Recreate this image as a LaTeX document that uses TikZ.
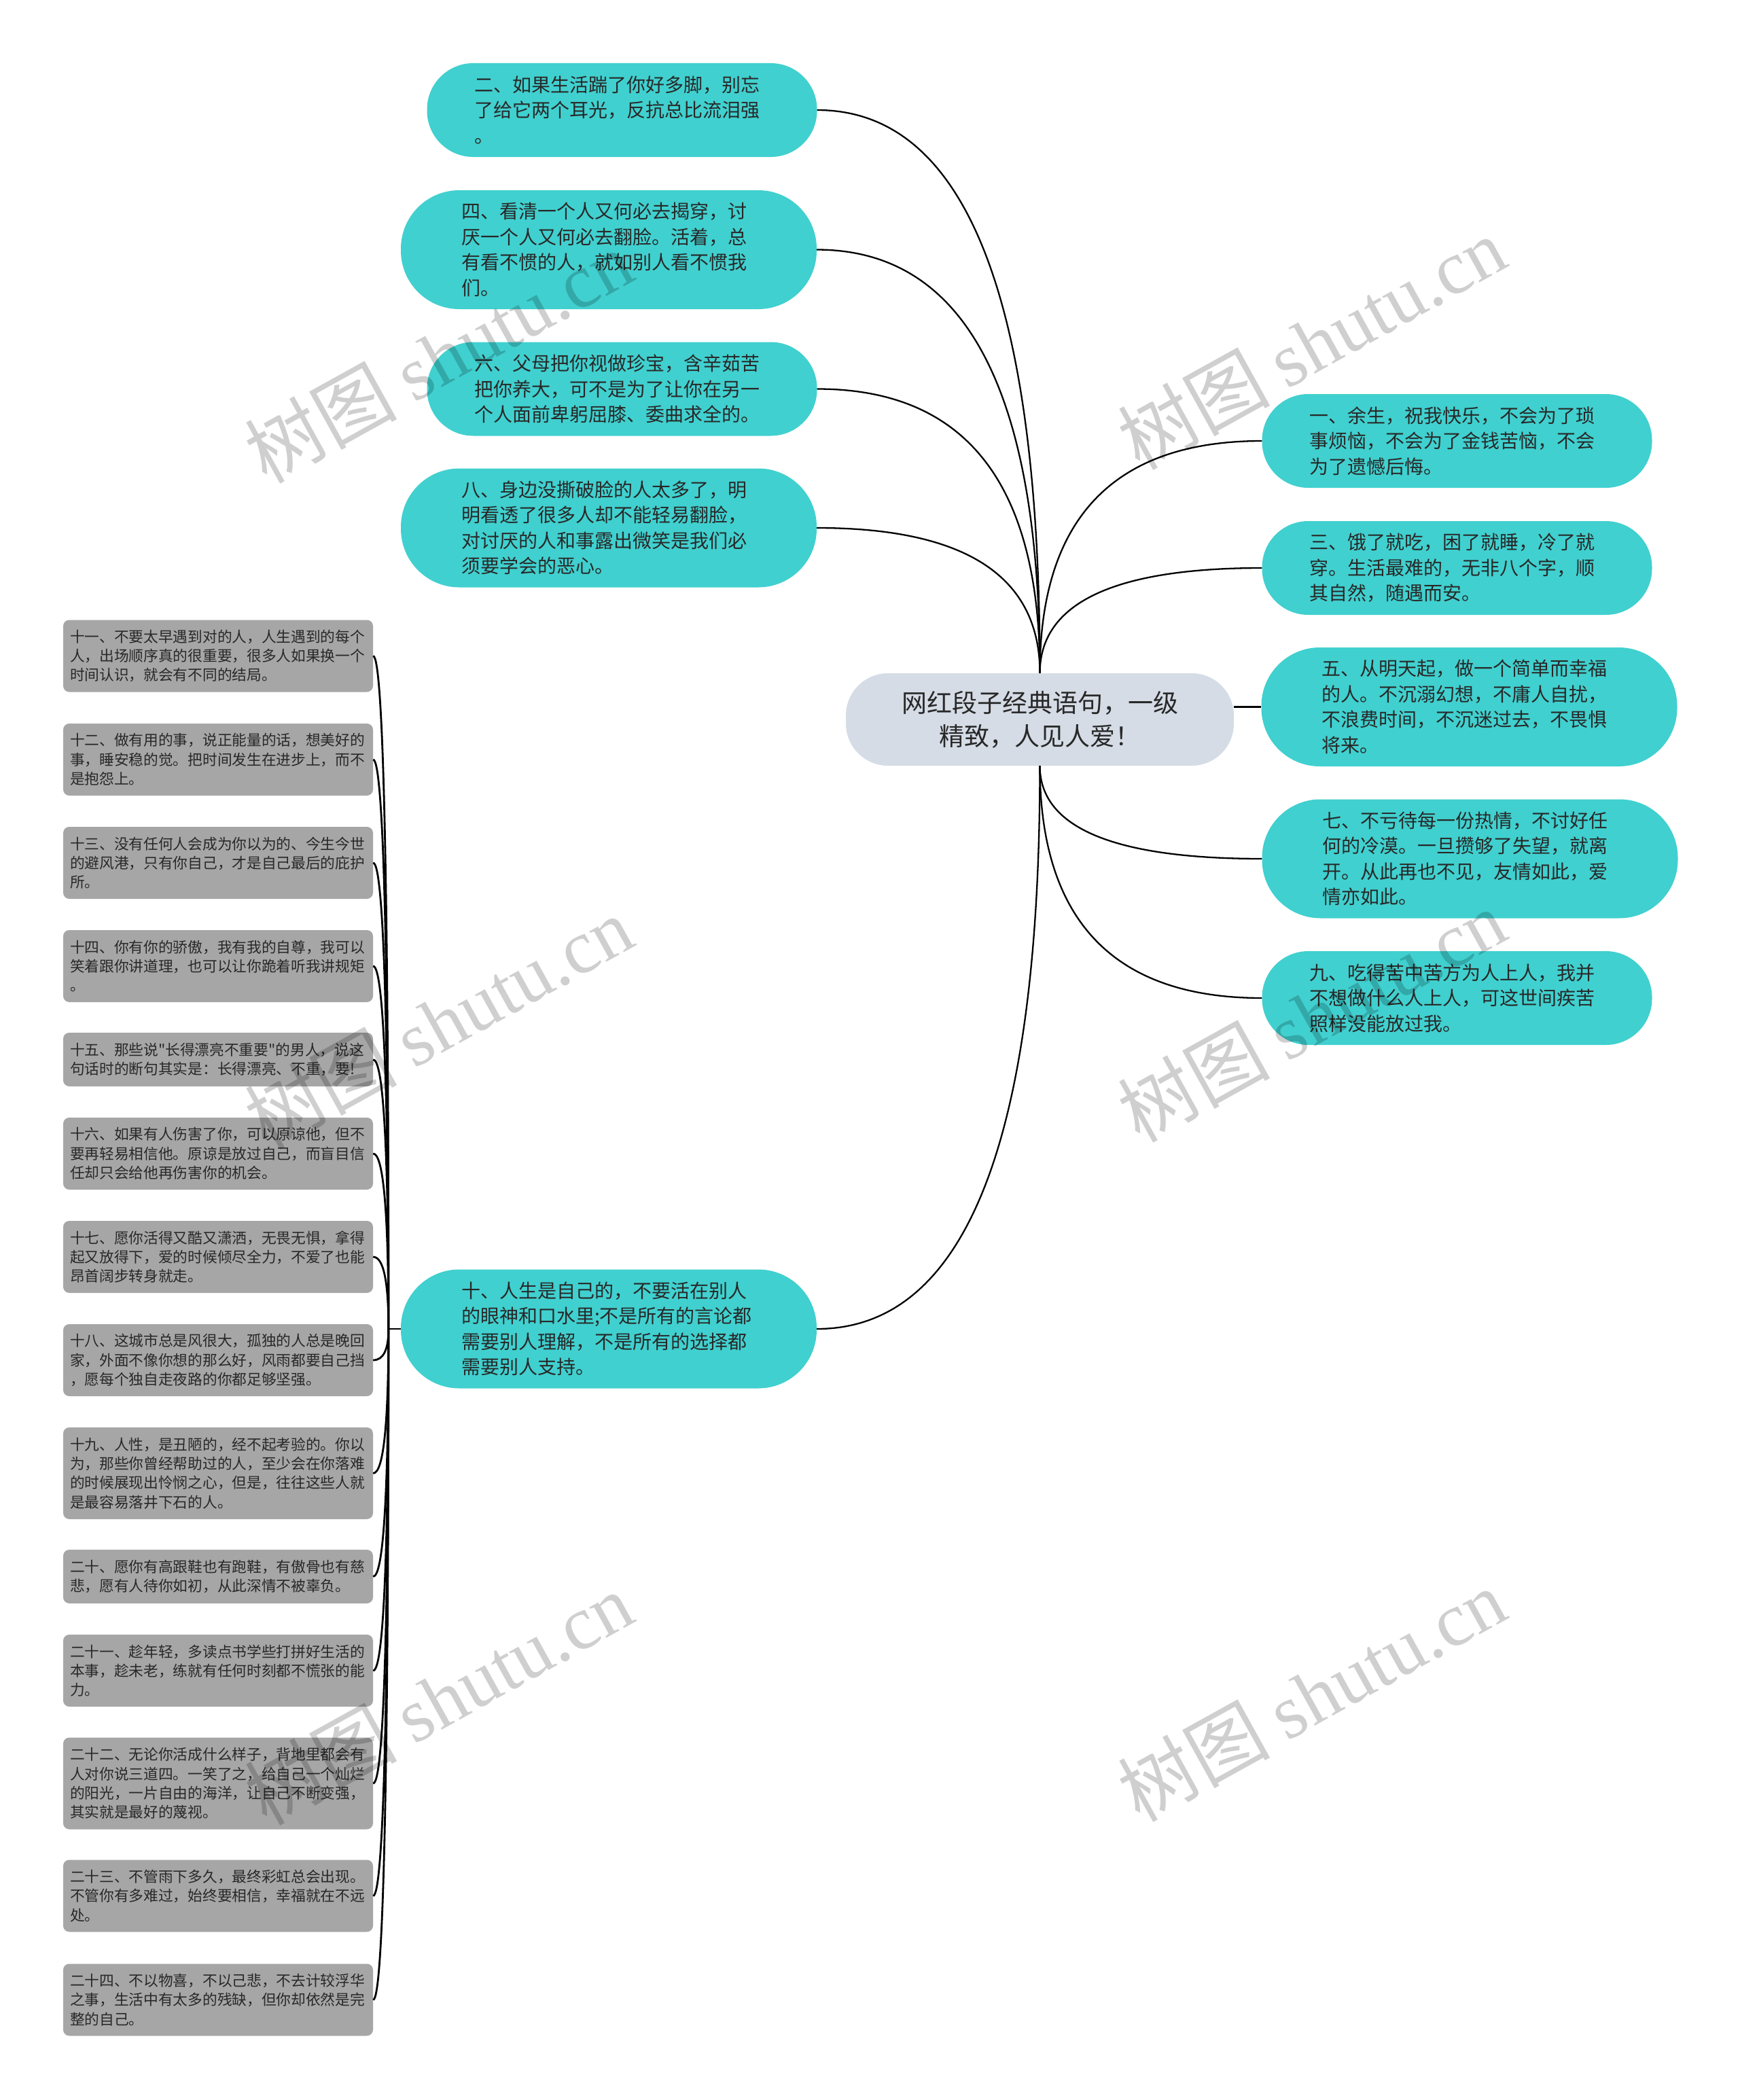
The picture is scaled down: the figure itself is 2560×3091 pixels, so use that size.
\documentclass[tikz,border=0pt]{standalone}
\usepackage{fontspec}
\setmainfont{Noto Sans CJK SC}
\newfontfamily\cjkplain{Noto Sans CJK SC}
\newfontfamily\wmlatin{Liberation Serif}
\usetikzlibrary{calc}
\definecolor{tealnode}{RGB}{64,208,207}
\definecolor{rootfill}{RGB}{213,220,230}
\definecolor{greybox}{RGB}{166,166,166}
\definecolor{txt}{RGB}{40,40,40}
\begin{document}
\begin{tikzpicture}[x=1pt,y=-1pt,
  tealS/.style={fill=tealnode, text=txt, font=\cjkplain\fontsize{28}{37.5}\selectfont, align=left, text width=434pt, inner sep=0pt, minimum width=574pt, minimum height=138pt, rounded corners=68pt},
  tealL/.style={fill=tealnode, text=txt, font=\cjkplain\fontsize{28}{37.5}\selectfont, align=left, text width=434pt, inner sep=0pt, minimum width=612pt, minimum height=175pt, rounded corners=86pt},
  rootbox/.style={fill=rootfill, text=txt, font=\cjkplain\fontsize{37}{49}\selectfont, align=center, inner sep=0pt, minimum width=571pt, minimum height=136pt, rounded corners=62pt},
  greyb/.style={fill=greybox, text=txt, font=\cjkplain\fontsize{21.7}{28.3}\selectfont, align=left, text width=436pt, inner sep=0pt, minimum width=456pt, minimum height=#1, rounded corners=9pt},
  conn/.style={draw=black, line width=2.3pt},
  gconn/.style={draw=black, line width=2.8pt},
  wm/.style={text=black, text opacity=0.19, font=\fontsize{112}{112}\selectfont, inner sep=0pt}
]
\fill[white] (0,0) rectangle (2560,3091);
\useasboundingbox (0,0) rectangle (2560,3091);

% root
\node[rootbox] (root) at (1530.5,1059) {网红段子经典语句，一级\\精致，人见人爱！};

% left teal nodes
\node[tealS] (n2) at (915.5,162) {二、如果生活踹了你好多脚，别忘\\了给它两个耳光，反抗总比流泪强\\。};
\node[tealL] (n4) at (896,367.5) {四、看清一个人又何必去揭穿，讨\\厌一个人又何必去翻脸。活着，总\\有看不惯的人，就如别人看不惯我\\们。};
\node[tealS] (n6) at (915.5,572.5) {六、父母把你视做珍宝，含辛茹苦\\把你养大，可不是为了让你在另一\\个人面前卑躬屈膝、委曲求全的。};
\node[tealL] (n8) at (896,777) {八、身边没撕破脸的人太多了，明\\明看透了很多人却不能轻易翻脸，\\对讨厌的人和事露出微笑是我们必\\须要学会的恶心。};
\node[tealL] (n10) at (896,1956) {十、人生是自己的，不要活在别人\\的眼神和口水里;不是所有的言论都\\需要别人理解，不是所有的选择都\\需要别人支持。};

% right teal nodes
\node[tealS] (n1) at (2144.5,649) {一、余生，祝我快乐，不会为了琐\\事烦恼，不会为了金钱苦恼，不会\\为了遗憾后悔。};
\node[tealS] (n3) at (2144.5,836) {三、饿了就吃，困了就睡，冷了就\\穿。生活最难的，无非八个字，顺\\其自然，随遇而安。};
\node[tealL] (n5) at (2162.5,1040.5) {五、从明天起，做一个简单而幸福\\的人。不沉溺幻想，不庸人自扰，\\不浪费时间，不沉迷过去，不畏惧\\将来。};
\node[tealL] (n7) at (2163.5,1264) {七、不亏待每一份热情，不讨好任\\何的冷漠。一旦攒够了失望，就离\\开。从此再也不见，友情如此，爱\\情亦如此。};
\node[tealS] (n9) at (2144.5,1469) {九、吃得苦中苦方为人上人，我并\\不想做什么人上人，可这世间疾苦\\照样没能放过我。};

% grey boxes
\node[greyb=106pt] (g11) at (321,965.5) {十一、不要太早遇到对的人，人生遇到的每个\\人，出场顺序真的很重要，很多人如果换一个\\时间认识，就会有不同的结局。};
\node[greyb=106pt] (g12) at (321,1118) {十二、做有用的事，说正能量的话，想美好的\\事，睡安稳的觉。把时间发生在进步上，而不\\是抱怨上。};
\node[greyb=106pt] (g13) at (321,1270) {十三、没有任何人会成为你以为的、今生今世\\的避风港，只有你自己，才是自己最后的庇护\\所。};
\node[greyb=106pt] (g14) at (321,1422) {十四、你有你的骄傲，我有我的自尊，我可以\\笑着跟你讲道理，也可以让你跪着听我讲规矩\\。};
\node[greyb=79pt] (g15) at (321,1559.5) {十五、那些说"长得漂亮不重要"的男人，说这\\句话时的断句其实是：长得漂亮、不重，要!};
\node[greyb=106pt] (g16) at (321,1698) {十六、如果有人伤害了你，可以原谅他，但不\\要再轻易相信他。原谅是放过自己，而盲目信\\任却只会给他再伤害你的机会。};
\node[greyb=106pt] (g17) at (321,1850) {十七、愿你活得又酷又潇洒，无畏无惧，拿得\\起又放得下，爱的时候倾尽全力，不爱了也能\\昂首阔步转身就走。};
\node[greyb=106pt] (g18) at (321,2002) {十八、这城市总是风很大，孤独的人总是晚回\\家，外面不像你想的那么好，风雨都要自己挡\\，愿每个独自走夜路的你都足够坚强。};
\node[greyb=135pt] (g19) at (321,2168.5) {十九、人性，是丑陋的，经不起考验的。你以\\为，那些你曾经帮助过的人，至少会在你落难\\的时候展现出怜悯之心，但是，往往这些人就\\是最容易落井下石的人。};
\node[greyb=79pt] (g20) at (321,2320.5) {二十、愿你有高跟鞋也有跑鞋，有傲骨也有慈\\悲，愿有人待你如初，从此深情不被辜负。};
\node[greyb=106pt] (g21) at (321,2459) {二十一、趁年轻，多读点书学些打拼好生活的\\本事，趁未老，练就有任何时刻都不慌张的能\\力。};
\node[greyb=135pt] (g22) at (321,2625) {二十二、无论你活成什么样子，背地里都会有\\人对你说三道四。一笑了之，给自己一个灿烂\\的阳光，一片自由的海洋，让自己不断变强，\\其实就是最好的蔑视。};
\node[greyb=106pt] (g23) at (321,2790.5) {二十三、不管雨下多久，最终彩虹总会出现。\\不管你有多难过，始终要相信，幸福就在不远\\处。};
\node[greyb=106pt] (g24) at (321,2943.5) {二十四、不以物喜，不以己悲，不去计较浮华\\之事，生活中有太多的残缺，但你却依然是完\\整的自己。};

% connectors from root (quadratic curves with corner control point)
\foreach \n in {n2,n4,n6,n8}
  \draw[conn] (root.north) .. controls ($(root.north)!0.6667!(root.north |- \n.east)$)
     and ($(\n.east)!0.6667!(root.north |- \n.east)$) .. (\n.east);
\foreach \n in {n1,n3}
  \draw[conn] (root.north) .. controls ($(root.north)!0.6667!(root.north |- \n.west)$)
     and ($(\n.west)!0.6667!(root.north |- \n.west)$) .. (\n.west);
\draw[conn] (n5.west -| root.east) -- (n5.west);
\foreach \n in {n7,n9}
  \draw[conn] (root.south) .. controls ($(root.south)!0.6667!(root.south |- \n.west)$)
     and ($(\n.west)!0.6667!(root.south |- \n.west)$) .. (\n.west);
\draw[conn] (root.south) .. controls ($(root.south)!0.6667!(root.south |- n10.east)$)
     and ($(n10.east)!0.6667!(root.south |- n10.east)$) .. (n10.east);

% connectors to grey boxes
\coordinate (jct) at ([xshift=-18pt]n10.west);
\draw[gconn] (n10.west) -- (jct);
\foreach \g in {g11,g12,g13,g14,g15,g16,g17,g18,g19,g20,g21,g22,g23,g24}
  \draw[gconn] (jct) .. controls ($(jct)!0.6667!(jct |- \g.east)$)
     and ($(\g.east)!0.6667!(jct |- \g.east)$) .. (\g.east);

% watermarks
\node[wm, rotate=29] (wm1) at (645,525) {树图 {\wmlatin shutu.cn}};
\node[wm, rotate=29] (wm2) at (1930,505) {树图 {\wmlatin shutu.cn}};
\node[wm, rotate=29] (wm3) at (645,1505) {树图 {\wmlatin shutu.cn}};
\node[wm, rotate=29] (wm4) at (1930,1495) {树图 {\wmlatin shutu.cn}};
\node[wm, rotate=29] (wm5) at (645,2500) {树图 {\wmlatin shutu.cn}};
\node[wm, rotate=29] (wm6) at (1930,2495) {树图 {\wmlatin shutu.cn}};
\end{tikzpicture}
\end{document}
